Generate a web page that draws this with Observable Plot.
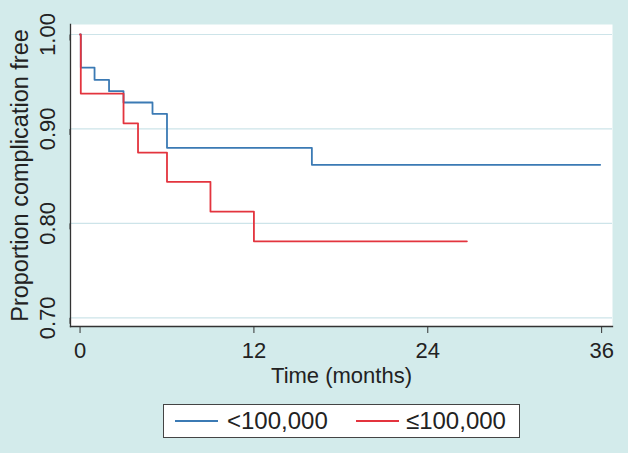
<!DOCTYPE html>
<html>
<head>
<meta charset="utf-8">
<script src="https://cdn.jsdelivr.net/npm/d3@7"></script>
<script src="https://cdn.jsdelivr.net/npm/@observablehq/plot@0.6"></script>
<style>
  html, body { margin: 0; padding: 0; background: #d3ebeb; }
  #wrap { position: relative; width: 628px; height: 453px; overflow: hidden; background: #d3ebeb; font-family: "Liberation Sans", Arial, sans-serif; }
  #legend { position: absolute; left: 163px; top: 404px; width: 355px; height: 32px; background: #fff; border: 1px solid #444; }
  .sw { position: absolute; top: 15px; height: 2px; width: 43px; }
  .lt { position: absolute; top: 0; line-height: 32px; font-size: 24px; color: #222; }
</style>
</head>
<body>
<div id="wrap"></div>
<script>
// Kaplan–Meier estimates
const seriesNames = ["<100,000", "≤100,000"];
const monthsA = [0, 0.05, 1, 2, 3, 5, 6, 16, 35.9];
const survA   = [1, 0.965, 0.952, 0.940, 0.928, 0.916, 0.880, 0.862, 0.862];
const monthsB = [0, 0.05, 3, 4, 6, 9, 12, 26.7];
const survB   = [1, 0.9375, 0.906, 0.875, 0.844, 0.8125, 0.781, 0.781];
const xTicks = [0, 12, 24, 36];
const yTicks = [0.70, 0.80, 0.90, 1.00];
const colors = ["#3b7ab4", "#e3343e"];

const dataA = monthsA.map((t, i) => ({t, s: survA[i], g: seriesNames[0]}));
const dataB = monthsB.map((t, i) => ({t, s: survB[i], g: seriesNames[1]}));

const chart = Plot.plot({
  width: 628,
  height: 398,
  marginLeft: 70,
  marginRight: 16,
  marginTop: 24,
  marginBottom: 72,
  style: { background: "transparent", fontFamily: "'Liberation Sans', Arial, sans-serif", color: "#222" },
  x: { domain: [-0.66, 36.75] },
  y: { domain: [0.6908, 1.0106] },
  marks: [
    Plot.frame({ fill: "white" }),
    Plot.gridY(yTicks, { stroke: "#cde4e9", strokeOpacity: 1, strokeWidth: 1.2 }),
    Plot.line(dataA, { x: "t", y: "s", curve: "step-after", stroke: colors[0], strokeWidth: 1.8 }),
    Plot.line(dataB, { x: "t", y: "s", curve: "step-after", stroke: colors[1], strokeWidth: 1.8 }),
    Plot.frame({ anchor: "left", stroke: "#333", strokeWidth: 1.3 }),
    Plot.frame({ anchor: "bottom", stroke: "#333", strokeWidth: 1.3 }),
    Plot.axisY(yTicks, { tickFormat: d3.format(".2f"), rotate: -90, textAnchor: "middle", tickSize: 6, tickPadding: 17, fontSize: 22, label: null, stroke: "#333" }),
    Plot.axisX(xTicks, { tickSize: 7, tickPadding: 9, fontSize: 22, label: null, stroke: "#333" }),
    Plot.text(["Time (months)"], { frameAnchor: "bottom", dy: 56, fontSize: 22, fill: "#222", textAnchor: "middle" }),
    Plot.text(["Proportion complication free"], { frameAnchor: "left", dx: -50, rotate: -90, fontSize: 23.5, fill: "#222", textAnchor: "middle" })
  ]
});

const wrap = document.getElementById("wrap");
wrap.appendChild(chart);

const legend = document.createElement("div");
legend.id = "legend";
legend.innerHTML =
  `<div class="sw" style="left:11px;background:${colors[0]}"></div>` +
  `<div class="lt" style="left:63px">${seriesNames[0]}</div>` +
  `<div class="sw" style="left:192px;background:${colors[1]}"></div>` +
  `<div class="lt" style="left:242px">${seriesNames[1]}</div>`;
wrap.appendChild(legend);
</script>
</body>
</html>
